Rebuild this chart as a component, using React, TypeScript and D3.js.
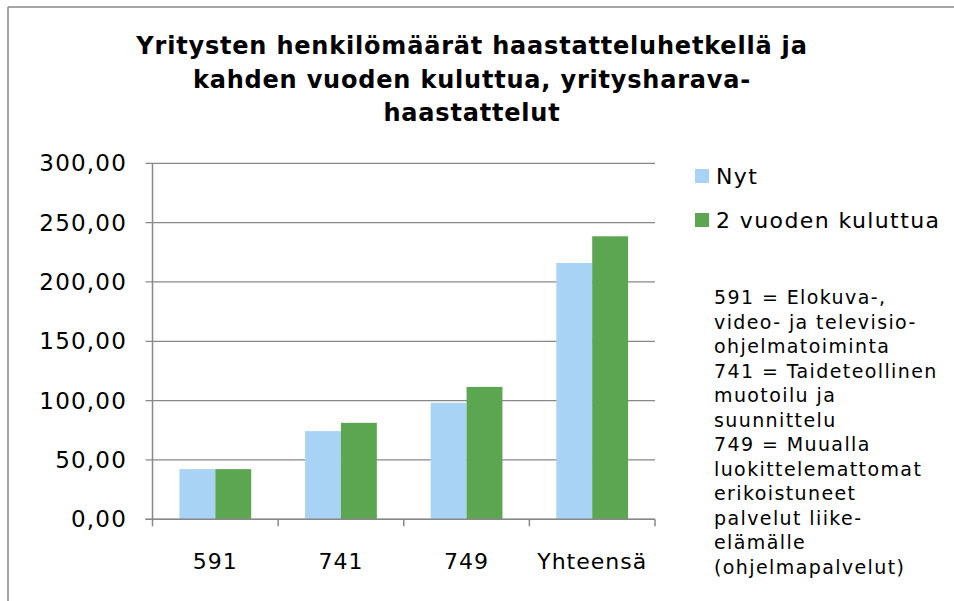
import React from "react";
import * as d3 from "d3";

const categories = ["591", "741", "749", "Yhteensä"];
const seriesNames = ["Nyt", "2 vuoden kuluttua"];
const nyt = [42.3, 74.3, 98.2, 216.0];
const kahdenVuodenPaasta = [42.3, 81.3, 111.6, 238.5];
const yTicks = [0, 50, 100, 150, 200, 250, 300];
const titleLines = [
  "Yritysten henkilömäärät haastatteluhetkellä ja",
  "kahden vuoden kuluttua, yritysharava-",
  "haastattelut",
];
const noteLines = [
  "591 = Elokuva-,",
  "video- ja televisio-",
  "ohjelmatoiminta",
  "741 = Taideteollinen",
  "muotoilu ja",
  "suunnittelu",
  "749 = Muualla",
  "luokittelemattomat",
  "erikoistuneet",
  "palvelut liike-",
  "elämälle",
  "(ohjelmapalvelut)",
];

const colors = ["#a9d3f4", "#5da651"];
const gridColor = "#888888";
const font = "'DejaVu Sans', Verdana, sans-serif";

const width = 954;
const height = 601;
const plot = { left: 152.5, right: 655, top: 163.3, bottom: 519.3 };

const App: React.FC = () => {
  const series = [nyt, kahdenVuodenPaasta];

  const x = d3.scaleBand<string>().domain(categories).range([plot.left, plot.right]);
  const band = x.bandwidth();
  const gap = (band * 1.5) / 3.5; // Excel-like gap width 150%
  const xInner = d3
    .scaleBand<number>()
    .domain(d3.range(series.length))
    .range([gap / 2, band - gap / 2]);

  const y = d3.scaleLinear().domain([0, 300]).range([plot.bottom, plot.top]);
  const fmt = (v: number) => d3.format(".2f")(v).replace(".", ",");

  // category boundaries for x tick marks
  const boundaries = categories.map((c) => x(c)!).concat([plot.right]);

  return (
    <svg
      width={width}
      height={height}
      style={{ position: "absolute", left: 0, top: 0, background: "#fff" }}
    >
      {/* outer border */}
      <line x1={8} y1={7} x2={width} y2={7} stroke={gridColor} strokeWidth={1.5} />
      <line x1={8} y1={7} x2={8} y2={height} stroke={gridColor} strokeWidth={1.5} />

      {/* title */}
      {titleLines.map((t, i) => (
        <text
          key={t}
          x={472}
          y={46 + i * 33.5}
          textAnchor="middle"
          dominantBaseline="central"
          fontFamily={font}
          fontWeight="bold"
          fontSize={24}
          letterSpacing={0.8}
          fill="#000"
        >
          {t}
        </text>
      ))}

      {/* gridlines + y ticks */}
      {yTicks.map((t) => (
        <g key={t}>
          <line
            x1={plot.left - 7}
            x2={plot.right}
            y1={y(t)}
            y2={y(t)}
            stroke={gridColor}
            strokeWidth={1.3}
          />
          <text
            x={127}
            y={y(t)}
            textAnchor="end"
            dominantBaseline="central"
            fontFamily={font}
            fontSize={23}
            letterSpacing={1.2}
            fill="#000"
          >
            {fmt(t)}
          </text>
        </g>
      ))}

      {/* bars */}
      {series.map((vals, si) =>
        categories.map((c, ci) => (
          <rect
            key={`${si}-${c}`}
            x={x(c)! + xInner(si)!}
            y={y(vals[ci])}
            width={xInner.bandwidth()}
            height={y(0) - y(vals[ci])}
            fill={colors[si]}
          />
        ))
      )}

      {/* axes */}
      <line x1={plot.left} x2={plot.left} y1={plot.top} y2={plot.bottom} stroke={gridColor} strokeWidth={1.5} />
      <line x1={plot.left - 7} x2={plot.right} y1={plot.bottom} y2={plot.bottom} stroke={gridColor} strokeWidth={1.5} />
      {boundaries.map((bx, i) => (
        <line key={i} x1={bx} x2={bx} y1={plot.bottom} y2={plot.bottom + 7} stroke={gridColor} strokeWidth={1.5} />
      ))}
      {categories.map((c) => (
        <text
          key={c}
          x={x(c)! + band / 2}
          y={561}
          textAnchor="middle"
          dominantBaseline="central"
          fontFamily={font}
          fontSize={22}
          letterSpacing={1}
          fill="#000"
        >
          {c}
        </text>
      ))}

      {/* legend */}
      {seriesNames.map((n, i) => (
        <g key={n} transform={`translate(695, ${176 + i * 44})`}>
          <rect x={0} y={-7} width={14} height={14} fill={colors[i]} />
          <text
            x={21}
            y={0}
            dominantBaseline="central"
            fontFamily={font}
            fontSize={22}
            letterSpacing={1.4}
            fill="#000"
          >
            {n}
          </text>
        </g>
      ))}

      {/* note */}
      {noteLines.map((t, i) => (
        <text
          key={i}
          x={714}
          y={297 + i * 24.5}
          dominantBaseline="central"
          fontFamily={font}
          fontSize={19}
          letterSpacing={1.4}
          fill="#000"
        >
          {t}
        </text>
      ))}
    </svg>
  );
};

export default App;
